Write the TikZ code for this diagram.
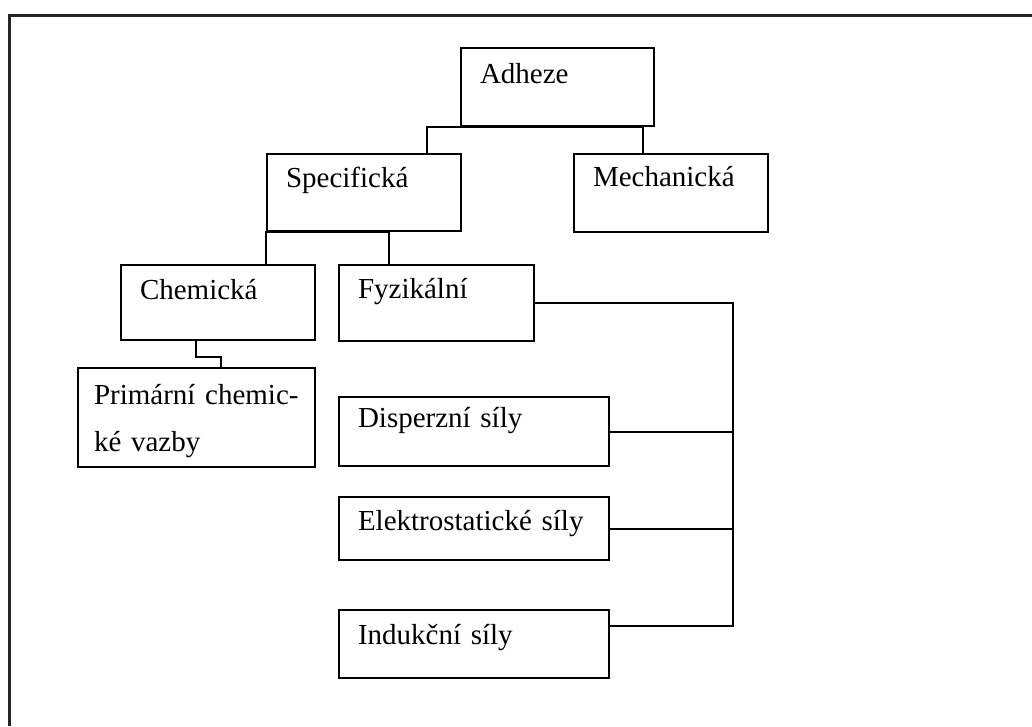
\documentclass[tikz,border=0pt]{standalone}
\usepackage{fontspec}
\setmainfont{Liberation Serif}
\usepackage{tikz}

\begin{document}
\begin{tikzpicture}[x=1pt, y=-1pt,
        every node/.style = {shape=rectangle, draw, line width=2pt,
                             anchor=north west, align=left,
                             inner xsep=19pt, inner ysep=0pt,
                             font=\fontsize{29}{47}\selectfont},
        link/.style = {line width=2pt},
        frame/.style = {line width=3pt, draw=black!85}]
    \useasboundingbox (0,0) rectangle (1032,726);
    \draw[frame] (9,726) -- (9,15) -- (1032,15);

    % boxes
    \node[text width=155pt, text height=35pt, text depth=43pt] (adheze) at (460,47) {Adheze};
    \node[text width=156pt, text height=33pt, text depth=44pt] (spec) at (266,153) {Specifická};
    \node[text width=156pt, text height=32pt, text depth=46pt] (mech) at (573,153) {Mechanická};
    \node[text width=156pt, text height=34pt, text depth=41pt] (chem) at (120,264) {Chemická};
    \node[text width=157pt, text height=33pt, text depth=43pt] (fyz) at (338,264) {Fyzikální};
    \node[text width=205pt, inner xsep=16pt, text height=36pt, text depth=63pt] (prim) at (77,367) {Primární chemic-\\ké vazby};
    \node[text width=232pt, text height=30pt, text depth=39pt] (disp) at (338,396) {Disperzní síly};
    \node[text width=232pt, text height=33pt, text depth=30pt] (elek) at (338,496) {Elektrostatické síly};
    \node[text width=232pt, text height=34pt, text depth=34pt] (ind) at (338,609) {Indukční síly};

    \coordinate (trunk) at (733,304);
    \coordinate (indin) at ([yshift=-17pt]ind.north east);

    % connectors
    \draw[link] ([xshift=161pt]spec.north west) |- (adheze.south) -| ([xshift=70pt]mech.north west);
    \draw[link] (chem.north -| spec.south west) |- (spec.south) -| ([xshift=51pt]fyz.north west);
    \draw[link] ([xshift=76pt]chem.south west) -- ++(0,16) -| ([xshift=144pt]prim.north west);
    \draw[link] (fyz.east) -| (trunk |- indin) -- (indin);
    \draw[link] (disp.east) -- (disp.east -| trunk);
    \draw[link] (elek.east) -- (elek.east -| trunk);
\end{tikzpicture}
\end{document}
